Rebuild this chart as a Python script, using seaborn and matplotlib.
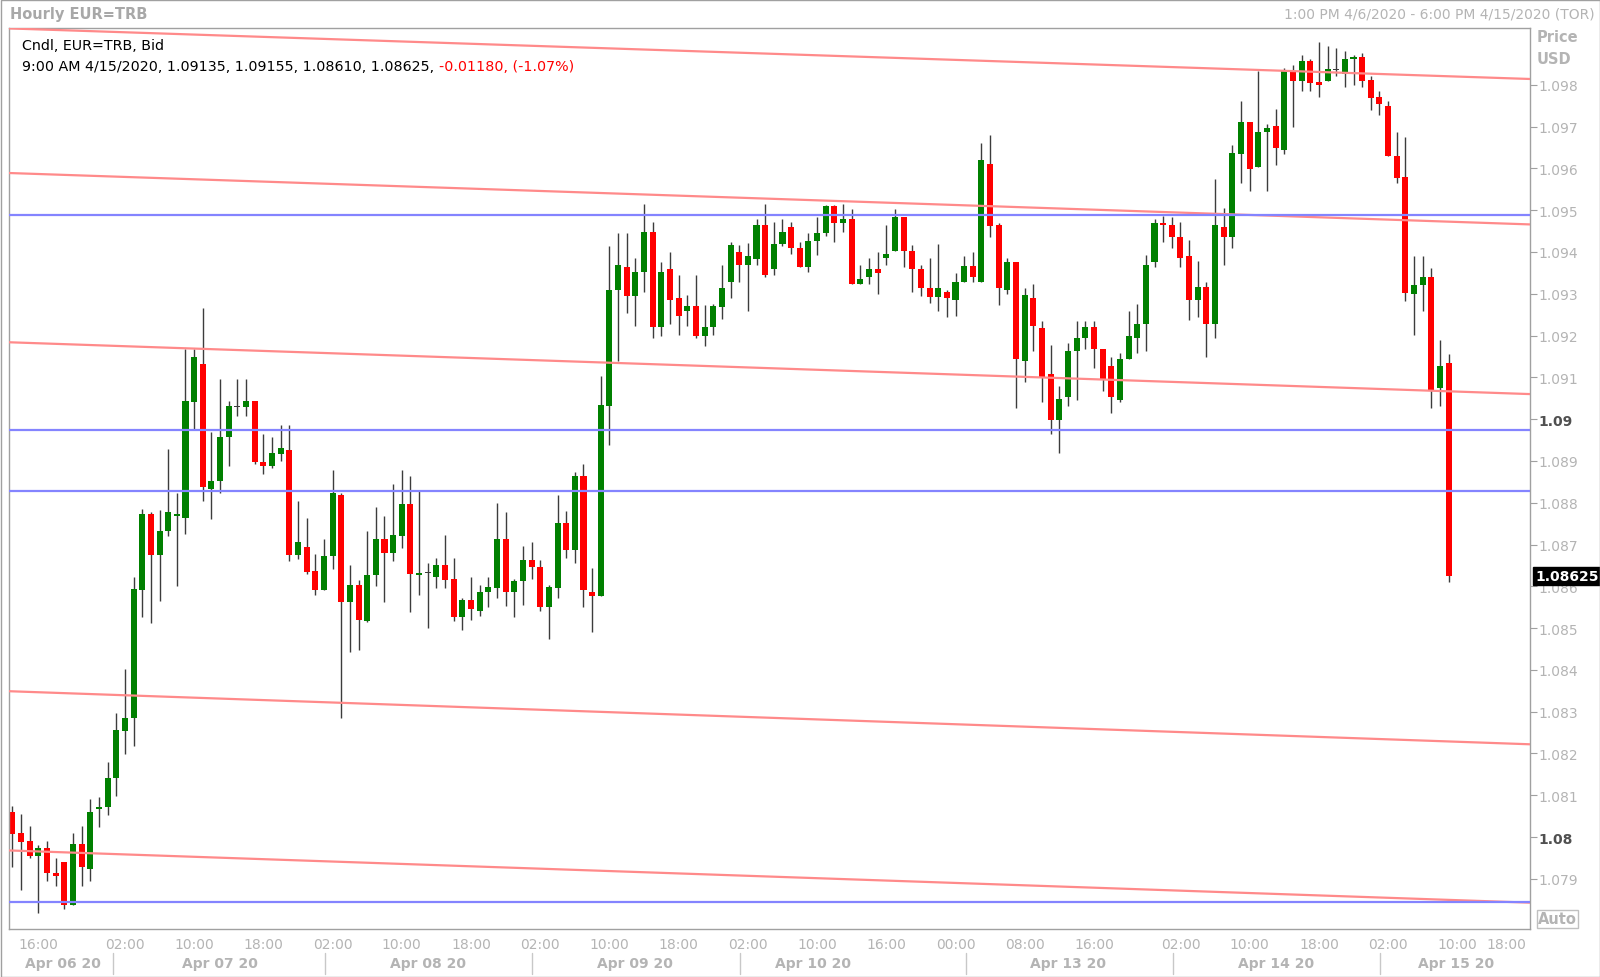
import matplotlib
matplotlib.use("Agg")
import matplotlib.pyplot as plt
import matplotlib.transforms as mtransforms
from matplotlib.patches import Rectangle
import numpy as np
import pandas as pd
import seaborn as sns

# Hourly EUR candles, 1:00 PM 4/6/2020 -> 9:00 AM 4/15/2020 (one entry per hour bar)
opens = [
    1.08059, 1.08010, 1.07991, 1.07954, 1.07975, 1.07915, 1.07941, 1.07838, 1.07984, 1.07924,
    1.08067, 1.08073, 1.08141, 1.08254, 1.08284, 1.08592, 1.08772, 1.08676, 1.08732, 1.08768,
    1.08763, 1.09042, 1.09132, 1.08833, 1.08851, 1.08957, 1.09029, 1.09028, 1.09044, 1.08898,
    1.08887, 1.08917, 1.08927, 1.08675, 1.08693, 1.08637, 1.08591, 1.08672, 1.08819, 1.08562,
    1.08602, 1.08518, 1.08626, 1.08713, 1.08680, 1.08721, 1.08797, 1.08627, 1.08631, 1.08622,
    1.08651, 1.08618, 1.08526, 1.08567, 1.08542, 1.08587, 1.08596, 1.08713, 1.08587, 1.08612,
    1.08662, 1.08647, 1.08550, 1.08596, 1.08752, 1.08688, 1.08863, 1.08587, 1.08576, 1.09031,
    1.09310, 1.09365, 1.09294, 1.09353, 1.09449, 1.09220, 1.09360, 1.09290, 1.09260, 1.09270,
    1.09198, 1.09220, 1.09268, 1.09328, 1.09400, 1.09369, 1.09384, 1.09465, 1.09360, 1.09420,
    1.09459, 1.09409, 1.09364, 1.09427, 1.09446, 1.09511, 1.09470, 1.09478, 1.09324, 1.09340,
    1.09360, 1.09385, 1.09403, 1.09483, 1.09403, 1.09360, 1.09315, 1.09293, 1.09304, 1.09284,
    1.09328, 1.09366, 1.09328, 1.09611, 1.09465, 1.09310, 1.09377, 1.09140, 1.09289, 1.09218,
    1.09107, 1.08997, 1.09052, 1.09164, 1.09194, 1.09220, 1.09168, 1.09128, 1.09047, 1.09144,
    1.09194, 1.09228, 1.09377, 1.09470, 1.09465, 1.09435, 1.09390, 1.09284, 1.09316, 1.09228,
    1.09461, 1.09435, 1.09635, 1.09712, 1.09603, 1.09687, 1.09701, 1.09645, 1.09832, 1.09810,
    1.09856, 1.09806, 1.09810, 1.09836, 1.09825, 1.09861, 1.09867, 1.09812, 1.09772, 1.09750,
    1.09630, 1.09579, 1.09299, 1.09320, 1.09340, 1.09074, 1.09135,
]
highs = [
    1.08075, 1.08055, 1.08026, 1.07981, 1.07991, 1.07949, 1.07941, 1.08009, 1.08026, 1.08091,
    1.08097, 1.08180, 1.08297, 1.08402, 1.08622, 1.08784, 1.08779, 1.08783, 1.08929, 1.08823,
    1.09168, 1.09168, 1.09265, 1.08969, 1.09095, 1.09044, 1.09095, 1.09095, 1.09044, 1.08964,
    1.08957, 1.08985, 1.08985, 1.08803, 1.08763, 1.08677, 1.08713, 1.08878, 1.08823, 1.08652,
    1.08616, 1.08732, 1.08789, 1.08768, 1.08845, 1.08878, 1.08863, 1.08827, 1.08656, 1.08668,
    1.08723, 1.08668, 1.08571, 1.08622, 1.08602, 1.08622, 1.08799, 1.08777, 1.08618, 1.08697,
    1.08705, 1.08663, 1.08602, 1.08819, 1.08781, 1.08873, 1.08893, 1.08643, 1.09103, 1.09415,
    1.09445, 1.09445, 1.09385, 1.09515, 1.09471, 1.09376, 1.09400, 1.09344, 1.09297, 1.09344,
    1.09272, 1.09276, 1.09369, 1.09425, 1.09416, 1.09422, 1.09478, 1.09515, 1.09471, 1.09478,
    1.09471, 1.09423, 1.09446, 1.09483, 1.09513, 1.09513, 1.09515, 1.09503, 1.09369, 1.09385,
    1.09400, 1.09465, 1.09503, 1.09483, 1.09416, 1.09368, 1.09385, 1.09419, 1.09310, 1.09349,
    1.09390, 1.09400, 1.09661, 1.09679, 1.09470, 1.09385, 1.09377, 1.09315, 1.09324, 1.09234,
    1.09178, 1.09079, 1.09183, 1.09234, 1.09234, 1.09234, 1.09168, 1.09148, 1.09158, 1.09260,
    1.09276, 1.09392, 1.09479, 1.09486, 1.09483, 1.09471, 1.09429, 1.09379, 1.09328, 1.09575,
    1.09505, 1.09655, 1.09762, 1.09712, 1.09834, 1.09707, 1.09743, 1.09840, 1.09848, 1.09872,
    1.09861, 1.09902, 1.09893, 1.09889, 1.09880, 1.09872, 1.09876, 1.09822, 1.09786, 1.09761,
    1.09686, 1.09675, 1.09391, 1.09391, 1.09361, 1.09189, 1.09155,
]
lows = [
    1.07928, 1.07873, 1.07949, 1.07818, 1.07894, 1.07882, 1.07828, 1.07838, 1.07882, 1.07894,
    1.08023, 1.08053, 1.08099, 1.08199, 1.08219, 1.08526, 1.08512, 1.08566, 1.08721, 1.08600,
    1.08725, 1.08977, 1.08805, 1.08761, 1.08823, 1.08889, 1.09007, 1.09007, 1.08893, 1.08868,
    1.08884, 1.08900, 1.08661, 1.08665, 1.08630, 1.08579, 1.08591, 1.08642, 1.08284, 1.08444,
    1.08448, 1.08515, 1.08600, 1.08562, 1.08661, 1.08691, 1.08538, 1.08580, 1.08500, 1.08595,
    1.08595, 1.08516, 1.08496, 1.08520, 1.08530, 1.08550, 1.08571, 1.08554, 1.08526, 1.08555,
    1.08618, 1.08542, 1.08474, 1.08571, 1.08667, 1.08656, 1.08550, 1.08490, 1.08576, 1.08938,
    1.09138, 1.09254, 1.09224, 1.09304, 1.09194, 1.09199, 1.09228, 1.09202, 1.09224, 1.09194,
    1.09175, 1.09202, 1.09240, 1.09289, 1.09328, 1.09260, 1.09369, 1.09340, 1.09345, 1.09414,
    1.09395, 1.09364, 1.09353, 1.09393, 1.09439, 1.09423, 1.09447, 1.09324, 1.09324, 1.09324,
    1.09300, 1.09369, 1.09403, 1.09364, 1.09304, 1.09294, 1.09278, 1.09260, 1.09244, 1.09248,
    1.09328, 1.09328, 1.09328, 1.09435, 1.09273, 1.09300, 1.09026, 1.09088, 1.09164, 1.09042,
    1.08965, 1.08919, 1.09031, 1.09047, 1.09168, 1.09122, 1.09068, 1.09015, 1.09042, 1.09144,
    1.09158, 1.09164, 1.09364, 1.09423, 1.09409, 1.09364, 1.09238, 1.09244, 1.09148, 1.09194,
    1.09369, 1.09409, 1.09565, 1.09545, 1.09603, 1.09545, 1.09609, 1.09635, 1.09699, 1.09786,
    1.09786, 1.09771, 1.09810, 1.09820, 1.09795, 1.09799, 1.09795, 1.09739, 1.09728, 1.09630,
    1.09564, 1.09283, 1.09202, 1.09259, 1.09027, 1.09031, 1.08610,
]
closes = [
    1.08007, 1.07989, 1.07954, 1.07975, 1.07915, 1.07907, 1.07838, 1.07984, 1.07928, 1.08059,
    1.08071, 1.08141, 1.08255, 1.08284, 1.08594, 1.08772, 1.08676, 1.08732, 1.08777, 1.08772,
    1.09044, 1.09148, 1.08837, 1.08851, 1.08957, 1.09032, 1.09029, 1.09044, 1.08897, 1.08889,
    1.08919, 1.08931, 1.08675, 1.08705, 1.08635, 1.08591, 1.08672, 1.08823, 1.08562, 1.08602,
    1.08520, 1.08627, 1.08713, 1.08680, 1.08723, 1.08797, 1.08630, 1.08632, 1.08631, 1.08651,
    1.08616, 1.08526, 1.08567, 1.08546, 1.08587, 1.08598, 1.08713, 1.08587, 1.08612, 1.08662,
    1.08647, 1.08550, 1.08598, 1.08752, 1.08688, 1.08863, 1.08592, 1.08576, 1.09033, 1.09310,
    1.09369, 1.09294, 1.09353, 1.09449, 1.09220, 1.09353, 1.09284, 1.09248, 1.09270, 1.09198,
    1.09220, 1.09270, 1.09315, 1.09416, 1.09369, 1.09390, 1.09465, 1.09344, 1.09420, 1.09449,
    1.09409, 1.09364, 1.09427, 1.09446, 1.09511, 1.09470, 1.09479, 1.09324, 1.09336, 1.09360,
    1.09350, 1.09395, 1.09483, 1.09403, 1.09360, 1.09314, 1.09293, 1.09315, 1.09289, 1.09328,
    1.09366, 1.09340, 1.09619, 1.09463, 1.09313, 1.09377, 1.09144, 1.09298, 1.09224, 1.09100,
    1.08997, 1.09049, 1.09164, 1.09194, 1.09220, 1.09168, 1.09096, 1.09052, 1.09144, 1.09198,
    1.09228, 1.09369, 1.09470, 1.09465, 1.09435, 1.09385, 1.09284, 1.09316, 1.09228, 1.09465,
    1.09435, 1.09636, 1.09712, 1.09599, 1.09687, 1.09696, 1.09648, 1.09832, 1.09810, 1.09856,
    1.09805, 1.09799, 1.09837, 1.09836, 1.09861, 1.09867, 1.09810, 1.09769, 1.09754, 1.09630,
    1.09578, 1.09303, 1.09320, 1.09340, 1.09068, 1.09128, 1.08625,
]

time_tick_pos = [3, 13, 21, 29, 37, 45, 53, 61, 69, 77, 85, 93, 101, 109, 117, 125,
                 135, 143, 151, 159, 167, 175]
time_tick_labels = ["16:00", "02:00", "10:00", "18:00", "02:00", "10:00", "18:00", "02:00",
                    "10:00", "18:00", "02:00", "10:00", "16:00", "00:00", "08:00", "16:00",
                    "02:00", "10:00", "18:00", "02:00", "10:00", "18:00"]
day_label_pos = [5.8, 24, 48, 72, 92.5, 122, 146, 166.8]
day_labels = ["Apr 06 20", "Apr 07 20", "Apr 08 20", "Apr 09 20", "Apr 10 20",
              "Apr 13 20", "Apr 14 20", "Apr 15 20"]
day_breaks = [11.6, 36.1, 60.1, 84.1, 110.2, 134.1, 158.1]

# horizontal support / resistance lines
support_levels = [1.09488, 1.08973, 1.08829, 1.07845]
# descending channel lines: price at left edge and at right edge of the chart
channel_start = [1.09935, 1.09589, 1.09184, 1.08349, 1.07968]
channel_end = [1.09814, 1.09466, 1.09060, 1.08222, 1.07843]

price_ticks = [1.079, 1.080, 1.081, 1.082, 1.083, 1.084, 1.085, 1.086, 1.087, 1.088,
               1.089, 1.090, 1.091, 1.092, 1.093, 1.094, 1.095, 1.096, 1.097, 1.098]
last_close = 1.08625

GREEN = "#008000"
RED = "#ff0000"
GREY = "#b4b4b4"
X_MIN, X_MAX = -0.4, 175.4
Y_MIN, Y_MAX = 1.07780, 1.09936


def draw_candles(ax, df):
    """Wicks as vlines, bodies as bars."""
    ax.vlines(df["idx"], df["low"], df["high"], color="#3c3c3c", linewidth=1.0, zorder=2)
    body_low = df[["open", "close"]].min(axis=1)
    body_h = (df["close"] - df["open"]).abs().clip(lower=0.000025)
    colors = np.where(df["close"] > df["open"], GREEN,
                      np.where(df["close"] < df["open"], RED, "#3c3c3c"))
    ax.bar(df["idx"], body_h, bottom=body_low, width=0.7, color=colors,
           linewidth=0, zorder=2.5)


def main():
    sns.set_theme(style="white")
    plt.rcParams["font.family"] = ["DejaVu Sans"]

    df = pd.DataFrame({"open": opens, "high": highs, "low": lows, "close": closes})
    df["idx"] = np.arange(len(df))

    fig = plt.figure(figsize=(16, 9.78), dpi=100)
    fig.patch.set_facecolor("white")
    ax = fig.add_axes([9 / 1600, 1 - 930 / 978, (1530 - 9) / 1600, (930 - 29) / 978])
    ax.set_facecolor("white")

    draw_candles(ax, df)

    # channel lines
    chan = pd.DataFrame({
        "x": [X_MIN, X_MAX] * len(channel_start),
        "price": [p for pair in zip(channel_start, channel_end) for p in pair],
        "line": np.repeat(np.arange(len(channel_start)), 2),
    })
    sns.lineplot(data=chan, x="x", y="price", units="line", estimator=None,
                 color="#ff8a8a", linewidth=1.6, ax=ax, legend=False, zorder=3)
    for lvl in support_levels:
        ax.axhline(lvl, color="#8484ff", linewidth=1.6, zorder=3)

    ax.set_xlim(X_MIN, X_MAX)
    ax.set_ylim(Y_MIN, Y_MAX)
    ax.set_xlabel("")
    ax.set_ylabel("")

    for side in ["top", "bottom", "left", "right"]:
        ax.spines[side].set_visible(True)
        ax.spines[side].set_color("#a0a0a0")
        ax.spines[side].set_linewidth(1.0)

    # right price axis
    ax.yaxis.tick_right()
    ax.set_yticks(price_ticks)
    ylabels = []
    for t in price_ticks:
        s = f"{t:.3f}"
        if s.endswith("0"):
            s = s[:-1]
        ylabels.append(s)
    ax.set_yticklabels(ylabels)
    ax.tick_params(axis="y", which="both", right=True, left=False, length=5, width=0.8,
                   color="#a0a0a0", labelcolor=GREY, labelsize=10, pad=1)
    for lab in ax.get_yticklabels():
        if lab.get_text() in ("1.09", "1.08"):
            lab.set_fontweight("bold")
            lab.set_color("#505050")

    # bottom time axis
    ax.set_xticks(time_tick_pos)
    ax.set_xticklabels(time_tick_labels)
    ax.tick_params(axis="x", which="both", bottom=True, length=0, labelcolor=GREY,
                   labelsize=10, pad=6)
    xl = ax.get_xticklabels()
    xl[-1].set_horizontalalignment("right")

    trans = mtransforms.blended_transform_factory(ax.transData, ax.transAxes)
    for pos, lab in zip(day_label_pos, day_labels):
        ax.annotate(lab, xy=(pos, 0), xycoords=trans, xytext=(0, -24.5),
                    textcoords="offset points", ha="center", va="center",
                    fontsize=10, fontweight="bold", color=GREY, annotation_clip=False)
    for b in day_breaks:
        ax.plot([b, b], [-0.027, -0.050], transform=trans, color="#c8c8c8",
                linewidth=1.0, clip_on=False)

    # last price marker
    ytrans = mtransforms.blended_transform_factory(ax.transAxes, ax.transData)
    ax.text(1.0035, last_close, f"{last_close:.5f}", transform=ytrans, ha="left",
            va="center", fontsize=10, fontweight="bold", color="white",
            bbox=dict(boxstyle="square,pad=0.15", facecolor="black", edgecolor="black"),
            zorder=10, clip_on=False)

    # legend-style header inside the chart
    ax.text(13 / 1521, 1 - 17 / 901, "Cndl, EUR=TRB, Bid", transform=ax.transAxes,
            ha="left", va="center", fontsize=10.3, color="black")
    t1 = ax.text(13 / 1521, 1 - 38 / 901,
                 "9:00 AM 4/15/2020, 1.09135, 1.09155, 1.08610, 1.08625, ",
                 transform=ax.transAxes, ha="left", va="center", fontsize=10.3, color="black")
    ax.annotate("-0.01180, (-1.07%)", xycoords=t1, xy=(1, 0.5), ha="left", va="center",
                fontsize=10.3, color="#ff0000")

    # title bar and axis captions
    fig.text(10 / 1600, 1 - 15 / 978, "Hourly EUR=TRB", ha="left", va="center",
             fontsize=10.5, fontweight="bold", color="#a8a8a8")
    fig.text(1595 / 1600, 1 - 15 / 978, "1:00 PM 4/6/2020 - 6:00 PM 4/15/2020 (TOR)",
             ha="right", va="center", fontsize=10, color=GREY)
    fig.text(1537 / 1600, 1 - 38 / 978, "Price", ha="left", va="center",
             fontsize=10.5, fontweight="bold", color=GREY)
    fig.text(1537 / 1600, 1 - 60 / 978, "USD", ha="left", va="center",
             fontsize=10.5, fontweight="bold", color=GREY)
    fig.text(1538 / 1600, 1 - 920 / 978, "Auto", ha="left", va="center",
             fontsize=10.5, fontweight="bold", color=GREY,
             bbox=dict(boxstyle="square,pad=0.1", facecolor="white", edgecolor="#c0c0c0"))

    fig.patches.append(Rectangle((0.5 / 1600, 0.5 / 978), 1 - 1 / 1600, 1 - 1 / 978,
                                 transform=fig.transFigure, fill=False,
                                 edgecolor="#a0a0a0", linewidth=1.0))

    fig.savefig("out.png", dpi=100, facecolor="white")
    plt.close(fig)


if __name__ == "__main__":
    main()
